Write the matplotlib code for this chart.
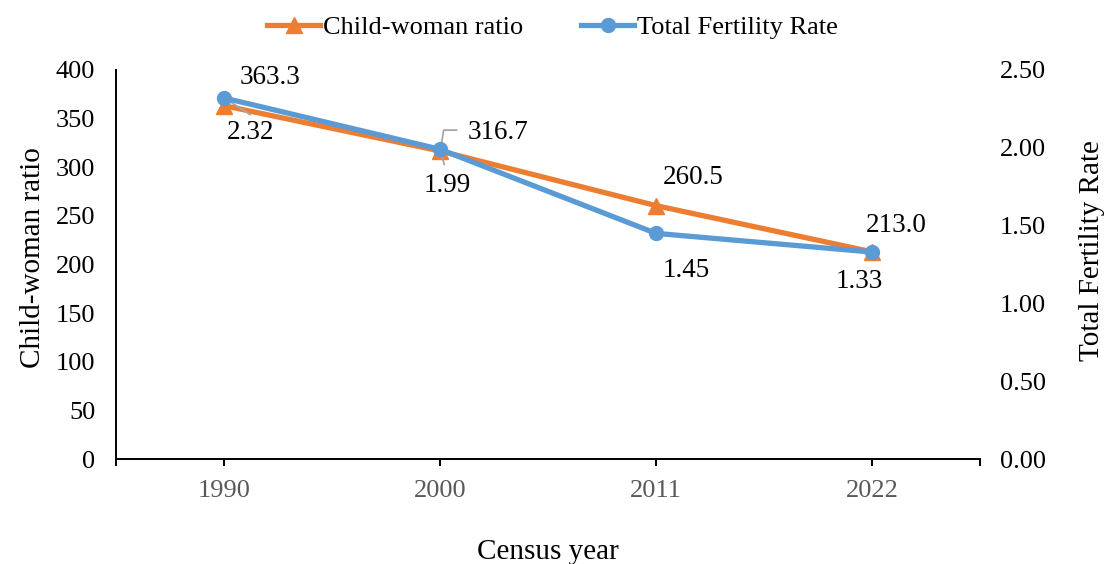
import matplotlib.pyplot as plt
from matplotlib.lines import Line2D

# data
years = ["1990", "2000", "2011", "2022"]
cwr = [363.3, 316.7, 260.5, 213.0]
tfr = [2.32, 1.99, 1.45, 1.33]

cwr_lab = ["363.3", "316.7", "260.5", "213.0"]
tfr_lab = ["2.32", "1.99", "1.45", "1.33"]

orange = "#ED7D31"
blue = "#5B9BD5"
grey = "#A5A5A5"

plt.rcParams['font.family'] = ['Liberation Serif', 'DejaVu Serif']

fig = plt.figure(figsize=(11.05, 5.64), dpi=100)
ax = fig.add_axes([0.105, 0.186, 0.782, 0.690])
ax2 = ax.twinx()

x = list(range(len(years)))
ax.plot(x, cwr, color=orange, lw=3.8, marker="^", ms=11, zorder=3)
ax2.plot(x, tfr, color=blue, lw=3.8, marker="o", ms=10, zorder=4)

ax.set_xlim(-0.5, 3.5)
ax.set_ylim(0, 400)
ax2.set_ylim(0, 2.5)
ax.set_yticks(range(0, 401, 50))
ax2.set_yticks([0, 0.5, 1.0, 1.5, 2.0, 2.5])
ax2.set_yticklabels(["%.2f" % v for v in [0, 0.5, 1.0, 1.5, 2.0, 2.5]])
ax.set_xticks(x)
ax.set_xticklabels(years, color="#595959")
ax.set_xticks([-0.5, 3.5], minor=True)

for a in (ax, ax2):
    a.spines["top"].set_visible(False)
    a.spines["right"].set_visible(False)
ax2.spines["left"].set_visible(False)
ax2.spines["bottom"].set_visible(False)
ax.spines["left"].set_linewidth(1.4)
ax.spines["bottom"].set_linewidth(1.4)

ax.tick_params(axis="y", length=0, labelsize=19, pad=15)
ax2.tick_params(axis="y", length=0, labelsize=19, pad=14)
ax.tick_params(axis="x", which="both", length=5, width=1.4, labelsize=19, pad=10, direction="out")

ax.set_ylabel("Child-woman ratio", fontsize=21)
ax2.set_ylabel("Total Fertility Rate", fontsize=21)
ax.set_xlabel("Census year", fontsize=21, labelpad=27)
ax.yaxis.set_label_coords(-0.081, 0.517)
ax2.yaxis.set_label_coords(1.114, 0.535)

# data labels (offsets in points)
cwr_off = [(33, 20), (42, 13), (27, 20), (17, 19)]
tfr_off = [(19, -25), (5, -26), (22, -27), (-9, -21)]
for i in x:
    ax.annotate(cwr_lab[i], (i, cwr[i]), xytext=cwr_off[i], textcoords="offset points",
                ha="center", va="center", fontsize=19.5, zorder=6)
    ax2.annotate(tfr_lab[i], (i, tfr[i]), xytext=tfr_off[i], textcoords="offset points",
                 ha="center", va="center", fontsize=19.5, zorder=6)

# leader lines
lead = dict(arrowstyle="-", color=grey, lw=1.3, shrinkA=0, shrinkB=0)
ax2.annotate("", (0, tfr[0]), xytext=(19, -12), textcoords="offset points", arrowprops=lead)
ax.annotate("", (1, cwr[1]), xytext=(12, 15), textcoords="offset points",
            arrowprops=dict(lead, connectionstyle="angle,angleA=0,angleB=80,rad=0"))
ax2.annotate("", (1, tfr[1]), xytext=(3, -11), textcoords="offset points", arrowprops=lead)

handles = [Line2D([], [], color=orange, lw=3.8, marker="^", ms=11),
           Line2D([], [], color=blue, lw=3.8, marker="o", ms=10)]
fig.legend(handles, ["Child-woman ratio", "Total Fertility Rate"], loc="center",
           bbox_to_anchor=(0.5, 0.952), ncol=2, frameon=False, fontsize=19,
           handlelength=2.0, handletextpad=0.1, columnspacing=2.2)

fig.savefig("out.png", dpi=100)
